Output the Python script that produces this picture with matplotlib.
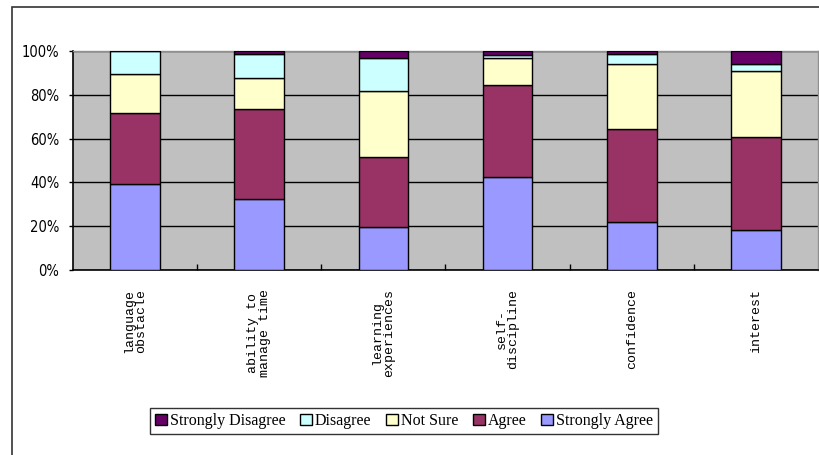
import matplotlib
matplotlib.use('Agg')
import matplotlib.pyplot as plt
import numpy as np
from matplotlib.patches import Rectangle
from matplotlib.ticker import FixedLocator, PercentFormatter

categories = ['language\nobstacle', 'ability to\nmanage time', 'learning\nexperiences',
              'self-\ndiscipline', 'confidence', 'interest']

# percentages, stacked bottom to top
strongly_agree = [39.1, 32.4, 19.8, 42.6, 21.8, 18.3]
agree = [32.7, 41.0, 31.9, 41.7, 42.4, 42.4]
not_sure = [17.6, 14.1, 30.0, 12.4, 29.9, 30.3]
disagree = [10.6, 11.0, 15.0, 1.5, 4.5, 3.1]
strongly_disagree = [0.0, 1.5, 3.3, 1.8, 1.4, 5.9]

series = [
    ('Strongly Agree', strongly_agree, '#9999FF'),
    ('Agree', agree, '#993366'),
    ('Not Sure', not_sure, '#FFFFCC'),
    ('Disagree', disagree, '#CCFFFF'),
    ('Strongly Disagree', strongly_disagree, '#660066'),
]

fig = plt.figure(figsize=(8.2, 4.55), dpi=100)
ax = fig.add_axes([73 / 820, 1 - 270 / 455, 745 / 820, 219 / 455])

# outer chart frame
fig.patches.append(Rectangle((12 / 820, -0.1), 1.0, 1 - 7 / 455 + 0.1,
                             transform=fig.transFigure, fill=False,
                             edgecolor='#333333', linewidth=1.2))

x = np.arange(len(categories))
bottom = np.zeros(len(categories))
handles = {}
for name, vals, color in series:
    vals = np.array(vals)
    handles[name] = ax.bar(x, vals, width=0.4, bottom=bottom, color=color,
                           edgecolor='black', linewidth=1.0, zorder=3, label=name)
    bottom += vals

ax.set_facecolor('#C0C0C0')
ax.set_xlim(-0.5, len(categories) - 0.5)
ax.set_ylim(0, 100)
ax.set_yticks(np.arange(0, 101, 20))
ax.yaxis.set_major_formatter(PercentFormatter(decimals=0))
ax.grid(axis='y', color='black', linewidth=1.0, zorder=0)
ax.set_axisbelow(True)

ax.set_xticks(x)
ax.set_xticklabels(categories, rotation=90, fontsize=9.5, family='Liberation Mono',
                   linespacing=0.95, ha='center', va='top', multialignment='center')
ax.xaxis.set_minor_locator(FixedLocator(np.arange(0.5, len(categories) - 0.5, 1)))
ax.tick_params(axis='x', which='major', length=0, pad=14)
ax.tick_params(axis='x', which='minor', direction='in', length=4, width=1, color='black')
ax.tick_params(axis='y', direction='out', length=3, width=1, pad=7)
for lbl in ax.get_yticklabels():
    lbl.set_family('DejaVu Sans')
    lbl.set_stretch('condensed')
    lbl.set_fontsize(10.5)

for side in ['left', 'bottom']:
    ax.spines[side].set_color('black')
    ax.spines[side].set_linewidth(1.2)
for side in ['top', 'right']:
    ax.spines[side].set_color('#909090')
    ax.spines[side].set_linewidth(1.0)

order = ['Strongly Disagree', 'Disagree', 'Not Sure', 'Agree', 'Strongly Agree']
leg = fig.legend([handles[n] for n in order], order, loc='center',
                 bbox_to_anchor=(404 / 820, 1 - 421 / 455), ncol=5,
                 prop={'family': 'Liberation Serif', 'size': 11.5}, frameon=True,
                 fancybox=False, handlelength=0.75, handleheight=0.75,
                 handletextpad=0.2, columnspacing=0.9, borderpad=0.3, borderaxespad=0)
leg.get_frame().set_edgecolor('black')
leg.get_frame().set_linewidth(1.0)

fig.savefig('out.png', dpi=100)
